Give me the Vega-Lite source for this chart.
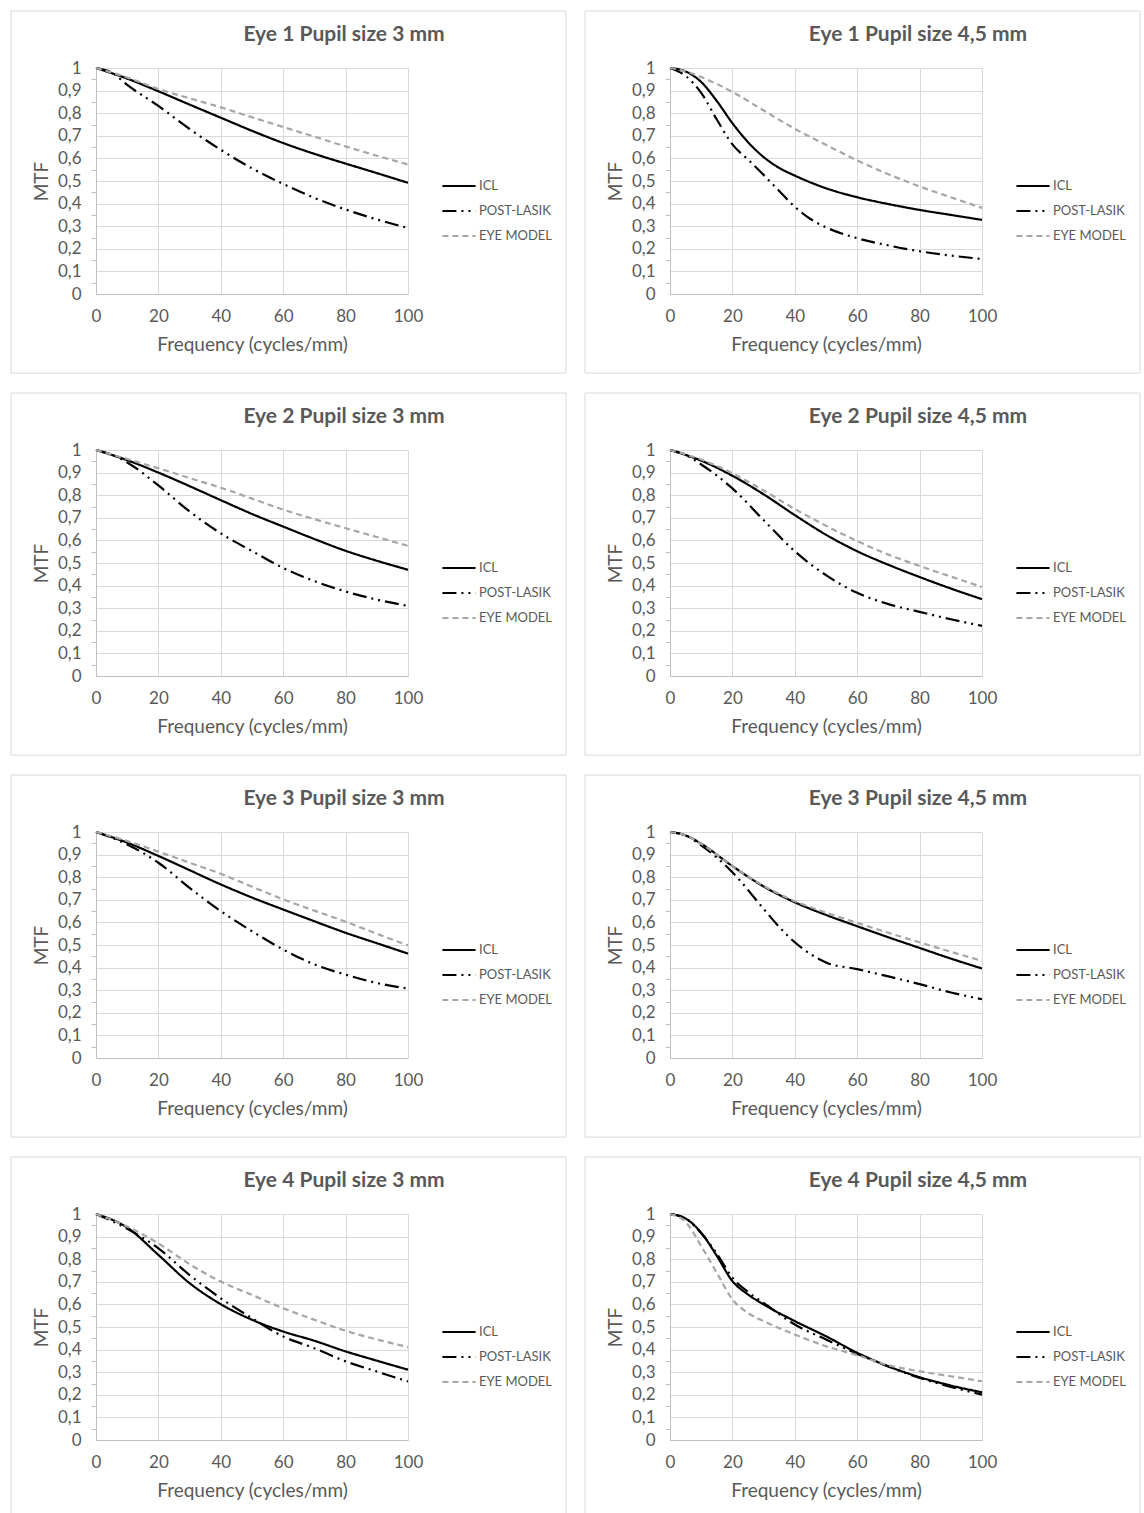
{
  "$schema": "https://vega.github.io/schema/vega-lite/v6.json",
  "padding": {"left": 10, "top": 10, "right": 0, "bottom": 0},
  "background": "white",
  "data": {"values": [
    {"p":"E1_3","s":"ICL","f":0,"m":1},{"p":"E1_3","s":"ICL","f":10,"m":0.953},{"p":"E1_3","s":"ICL","f":20,"m":0.897},{"p":"E1_3","s":"ICL","f":30,"m":0.838},{"p":"E1_3","s":"ICL","f":40,"m":0.78},{"p":"E1_3","s":"ICL","f":50,"m":0.722},{"p":"E1_3","s":"ICL","f":60,"m":0.668},{"p":"E1_3","s":"ICL","f":70,"m":0.62},{"p":"E1_3","s":"ICL","f":80,"m":0.577},{"p":"E1_3","s":"ICL","f":90,"m":0.535},{"p":"E1_3","s":"ICL","f":100,"m":0.492},
    {"p":"E1_3","s":"POST-LASIK","f":0,"m":1},{"p":"E1_3","s":"POST-LASIK","f":5,"m":0.98},{"p":"E1_3","s":"POST-LASIK","f":10,"m":0.925},{"p":"E1_3","s":"POST-LASIK","f":20,"m":0.832},{"p":"E1_3","s":"POST-LASIK","f":30,"m":0.73},{"p":"E1_3","s":"POST-LASIK","f":40,"m":0.638},{"p":"E1_3","s":"POST-LASIK","f":50,"m":0.556},{"p":"E1_3","s":"POST-LASIK","f":60,"m":0.487},{"p":"E1_3","s":"POST-LASIK","f":70,"m":0.425},{"p":"E1_3","s":"POST-LASIK","f":80,"m":0.374},{"p":"E1_3","s":"POST-LASIK","f":90,"m":0.33},{"p":"E1_3","s":"POST-LASIK","f":100,"m":0.292},
    {"p":"E1_3","s":"EYE MODEL","f":0,"m":1},{"p":"E1_3","s":"EYE MODEL","f":10,"m":0.958},{"p":"E1_3","s":"EYE MODEL","f":20,"m":0.907},{"p":"E1_3","s":"EYE MODEL","f":30,"m":0.866},{"p":"E1_3","s":"EYE MODEL","f":40,"m":0.826},{"p":"E1_3","s":"EYE MODEL","f":50,"m":0.782},{"p":"E1_3","s":"EYE MODEL","f":60,"m":0.739},{"p":"E1_3","s":"EYE MODEL","f":70,"m":0.696},{"p":"E1_3","s":"EYE MODEL","f":80,"m":0.653},{"p":"E1_3","s":"EYE MODEL","f":90,"m":0.612},{"p":"E1_3","s":"EYE MODEL","f":100,"m":0.573},

    {"p":"E1_45","s":"ICL","f":0,"m":1},{"p":"E1_45","s":"ICL","f":5,"m":0.985},{"p":"E1_45","s":"ICL","f":10,"m":0.938},{"p":"E1_45","s":"ICL","f":15,"m":0.854},{"p":"E1_45","s":"ICL","f":20,"m":0.756},{"p":"E1_45","s":"ICL","f":25,"m":0.672},{"p":"E1_45","s":"ICL","f":30,"m":0.606},{"p":"E1_45","s":"ICL","f":35,"m":0.558},{"p":"E1_45","s":"ICL","f":40,"m":0.524},{"p":"E1_45","s":"ICL","f":50,"m":0.468},{"p":"E1_45","s":"ICL","f":60,"m":0.428},{"p":"E1_45","s":"ICL","f":70,"m":0.398},{"p":"E1_45","s":"ICL","f":80,"m":0.372},{"p":"E1_45","s":"ICL","f":90,"m":0.35},{"p":"E1_45","s":"ICL","f":100,"m":0.328},
    {"p":"E1_45","s":"POST-LASIK","f":0,"m":1},{"p":"E1_45","s":"POST-LASIK","f":5,"m":0.965},{"p":"E1_45","s":"POST-LASIK","f":10,"m":0.89},{"p":"E1_45","s":"POST-LASIK","f":15,"m":0.772},{"p":"E1_45","s":"POST-LASIK","f":20,"m":0.662},{"p":"E1_45","s":"POST-LASIK","f":25,"m":0.595},{"p":"E1_45","s":"POST-LASIK","f":30,"m":0.527},{"p":"E1_45","s":"POST-LASIK","f":35,"m":0.456},{"p":"E1_45","s":"POST-LASIK","f":40,"m":0.386},{"p":"E1_45","s":"POST-LASIK","f":45,"m":0.332},{"p":"E1_45","s":"POST-LASIK","f":50,"m":0.295},{"p":"E1_45","s":"POST-LASIK","f":60,"m":0.247},{"p":"E1_45","s":"POST-LASIK","f":70,"m":0.215},{"p":"E1_45","s":"POST-LASIK","f":80,"m":0.189},{"p":"E1_45","s":"POST-LASIK","f":90,"m":0.17},{"p":"E1_45","s":"POST-LASIK","f":100,"m":0.155},
    {"p":"E1_45","s":"EYE MODEL","f":0,"m":1},{"p":"E1_45","s":"EYE MODEL","f":5,"m":0.985},{"p":"E1_45","s":"EYE MODEL","f":10,"m":0.96},{"p":"E1_45","s":"EYE MODEL","f":20,"m":0.894},{"p":"E1_45","s":"EYE MODEL","f":30,"m":0.812},{"p":"E1_45","s":"EYE MODEL","f":40,"m":0.731},{"p":"E1_45","s":"EYE MODEL","f":50,"m":0.66},{"p":"E1_45","s":"EYE MODEL","f":60,"m":0.591},{"p":"E1_45","s":"EYE MODEL","f":70,"m":0.53},{"p":"E1_45","s":"EYE MODEL","f":80,"m":0.476},{"p":"E1_45","s":"EYE MODEL","f":90,"m":0.428},{"p":"E1_45","s":"EYE MODEL","f":100,"m":0.381},

    {"p":"E2_3","s":"ICL","f":0,"m":1},{"p":"E2_3","s":"ICL","f":10,"m":0.955},{"p":"E2_3","s":"ICL","f":20,"m":0.9},{"p":"E2_3","s":"ICL","f":30,"m":0.84},{"p":"E2_3","s":"ICL","f":40,"m":0.778},{"p":"E2_3","s":"ICL","f":50,"m":0.717},{"p":"E2_3","s":"ICL","f":60,"m":0.661},{"p":"E2_3","s":"ICL","f":70,"m":0.606},{"p":"E2_3","s":"ICL","f":80,"m":0.554},{"p":"E2_3","s":"ICL","f":90,"m":0.51},{"p":"E2_3","s":"ICL","f":100,"m":0.47},
    {"p":"E2_3","s":"POST-LASIK","f":0,"m":1},{"p":"E2_3","s":"POST-LASIK","f":5,"m":0.98},{"p":"E2_3","s":"POST-LASIK","f":10,"m":0.945},{"p":"E2_3","s":"POST-LASIK","f":20,"m":0.843},{"p":"E2_3","s":"POST-LASIK","f":30,"m":0.728},{"p":"E2_3","s":"POST-LASIK","f":40,"m":0.631},{"p":"E2_3","s":"POST-LASIK","f":50,"m":0.553},{"p":"E2_3","s":"POST-LASIK","f":60,"m":0.478},{"p":"E2_3","s":"POST-LASIK","f":70,"m":0.42},{"p":"E2_3","s":"POST-LASIK","f":80,"m":0.374},{"p":"E2_3","s":"POST-LASIK","f":90,"m":0.338},{"p":"E2_3","s":"POST-LASIK","f":100,"m":0.31},
    {"p":"E2_3","s":"EYE MODEL","f":0,"m":1},{"p":"E2_3","s":"EYE MODEL","f":10,"m":0.96},{"p":"E2_3","s":"EYE MODEL","f":20,"m":0.919},{"p":"E2_3","s":"EYE MODEL","f":30,"m":0.876},{"p":"E2_3","s":"EYE MODEL","f":40,"m":0.833},{"p":"E2_3","s":"EYE MODEL","f":50,"m":0.785},{"p":"E2_3","s":"EYE MODEL","f":60,"m":0.736},{"p":"E2_3","s":"EYE MODEL","f":70,"m":0.694},{"p":"E2_3","s":"EYE MODEL","f":80,"m":0.654},{"p":"E2_3","s":"EYE MODEL","f":90,"m":0.615},{"p":"E2_3","s":"EYE MODEL","f":100,"m":0.576},

    {"p":"E2_45","s":"ICL","f":0,"m":1},{"p":"E2_45","s":"ICL","f":10,"m":0.953},{"p":"E2_45","s":"ICL","f":20,"m":0.886},{"p":"E2_45","s":"ICL","f":30,"m":0.804},{"p":"E2_45","s":"ICL","f":40,"m":0.712},{"p":"E2_45","s":"ICL","f":50,"m":0.625},{"p":"E2_45","s":"ICL","f":60,"m":0.552},{"p":"E2_45","s":"ICL","f":70,"m":0.492},{"p":"E2_45","s":"ICL","f":80,"m":0.438},{"p":"E2_45","s":"ICL","f":90,"m":0.387},{"p":"E2_45","s":"ICL","f":100,"m":0.34},
    {"p":"E2_45","s":"POST-LASIK","f":0,"m":1},{"p":"E2_45","s":"POST-LASIK","f":5,"m":0.978},{"p":"E2_45","s":"POST-LASIK","f":10,"m":0.936},{"p":"E2_45","s":"POST-LASIK","f":20,"m":0.83},{"p":"E2_45","s":"POST-LASIK","f":30,"m":0.69},{"p":"E2_45","s":"POST-LASIK","f":40,"m":0.552},{"p":"E2_45","s":"POST-LASIK","f":50,"m":0.446},{"p":"E2_45","s":"POST-LASIK","f":60,"m":0.368},{"p":"E2_45","s":"POST-LASIK","f":70,"m":0.318},{"p":"E2_45","s":"POST-LASIK","f":80,"m":0.284},{"p":"E2_45","s":"POST-LASIK","f":90,"m":0.251},{"p":"E2_45","s":"POST-LASIK","f":100,"m":0.222},
    {"p":"E2_45","s":"EYE MODEL","f":0,"m":1},{"p":"E2_45","s":"EYE MODEL","f":10,"m":0.958},{"p":"E2_45","s":"EYE MODEL","f":20,"m":0.897},{"p":"E2_45","s":"EYE MODEL","f":30,"m":0.821},{"p":"E2_45","s":"EYE MODEL","f":40,"m":0.739},{"p":"E2_45","s":"EYE MODEL","f":50,"m":0.665},{"p":"E2_45","s":"EYE MODEL","f":60,"m":0.597},{"p":"E2_45","s":"EYE MODEL","f":70,"m":0.537},{"p":"E2_45","s":"EYE MODEL","f":80,"m":0.487},{"p":"E2_45","s":"EYE MODEL","f":90,"m":0.44},{"p":"E2_45","s":"EYE MODEL","f":100,"m":0.394},

    {"p":"E3_3","s":"ICL","f":0,"m":1},{"p":"E3_3","s":"ICL","f":10,"m":0.953},{"p":"E3_3","s":"ICL","f":20,"m":0.894},{"p":"E3_3","s":"ICL","f":30,"m":0.831},{"p":"E3_3","s":"ICL","f":40,"m":0.768},{"p":"E3_3","s":"ICL","f":50,"m":0.71},{"p":"E3_3","s":"ICL","f":60,"m":0.657},{"p":"E3_3","s":"ICL","f":70,"m":0.605},{"p":"E3_3","s":"ICL","f":80,"m":0.554},{"p":"E3_3","s":"ICL","f":90,"m":0.508},{"p":"E3_3","s":"ICL","f":100,"m":0.462},
    {"p":"E3_3","s":"POST-LASIK","f":0,"m":1},{"p":"E3_3","s":"POST-LASIK","f":10,"m":0.945},{"p":"E3_3","s":"POST-LASIK","f":20,"m":0.864},{"p":"E3_3","s":"POST-LASIK","f":30,"m":0.753},{"p":"E3_3","s":"POST-LASIK","f":40,"m":0.65},{"p":"E3_3","s":"POST-LASIK","f":50,"m":0.561},{"p":"E3_3","s":"POST-LASIK","f":60,"m":0.48},{"p":"E3_3","s":"POST-LASIK","f":70,"m":0.414},{"p":"E3_3","s":"POST-LASIK","f":80,"m":0.369},{"p":"E3_3","s":"POST-LASIK","f":90,"m":0.332},{"p":"E3_3","s":"POST-LASIK","f":100,"m":0.307},
    {"p":"E3_3","s":"EYE MODEL","f":0,"m":1},{"p":"E3_3","s":"EYE MODEL","f":10,"m":0.96},{"p":"E3_3","s":"EYE MODEL","f":20,"m":0.913},{"p":"E3_3","s":"EYE MODEL","f":30,"m":0.864},{"p":"E3_3","s":"EYE MODEL","f":40,"m":0.815},{"p":"E3_3","s":"EYE MODEL","f":50,"m":0.758},{"p":"E3_3","s":"EYE MODEL","f":60,"m":0.702},{"p":"E3_3","s":"EYE MODEL","f":70,"m":0.652},{"p":"E3_3","s":"EYE MODEL","f":80,"m":0.603},{"p":"E3_3","s":"EYE MODEL","f":90,"m":0.55},{"p":"E3_3","s":"EYE MODEL","f":100,"m":0.498},

    {"p":"E3_45","s":"ICL","f":0,"m":1},{"p":"E3_45","s":"ICL","f":5,"m":0.985},{"p":"E3_45","s":"ICL","f":10,"m":0.948},{"p":"E3_45","s":"ICL","f":20,"m":0.849},{"p":"E3_45","s":"ICL","f":30,"m":0.759},{"p":"E3_45","s":"ICL","f":40,"m":0.689},{"p":"E3_45","s":"ICL","f":50,"m":0.633},{"p":"E3_45","s":"ICL","f":60,"m":0.583},{"p":"E3_45","s":"ICL","f":70,"m":0.534},{"p":"E3_45","s":"ICL","f":80,"m":0.487},{"p":"E3_45","s":"ICL","f":90,"m":0.44},{"p":"E3_45","s":"ICL","f":100,"m":0.396},
    {"p":"E3_45","s":"POST-LASIK","f":0,"m":1},{"p":"E3_45","s":"POST-LASIK","f":5,"m":0.985},{"p":"E3_45","s":"POST-LASIK","f":10,"m":0.941},{"p":"E3_45","s":"POST-LASIK","f":20,"m":0.822},{"p":"E3_45","s":"POST-LASIK","f":30,"m":0.66},{"p":"E3_45","s":"POST-LASIK","f":35,"m":0.58},{"p":"E3_45","s":"POST-LASIK","f":40,"m":0.512},{"p":"E3_45","s":"POST-LASIK","f":45,"m":0.46},{"p":"E3_45","s":"POST-LASIK","f":50,"m":0.423},{"p":"E3_45","s":"POST-LASIK","f":60,"m":0.393},{"p":"E3_45","s":"POST-LASIK","f":70,"m":0.361},{"p":"E3_45","s":"POST-LASIK","f":80,"m":0.327},{"p":"E3_45","s":"POST-LASIK","f":90,"m":0.29},{"p":"E3_45","s":"POST-LASIK","f":100,"m":0.26},
    {"p":"E3_45","s":"EYE MODEL","f":0,"m":1},{"p":"E3_45","s":"EYE MODEL","f":5,"m":0.985},{"p":"E3_45","s":"EYE MODEL","f":10,"m":0.948},{"p":"E3_45","s":"EYE MODEL","f":20,"m":0.849},{"p":"E3_45","s":"EYE MODEL","f":30,"m":0.762},{"p":"E3_45","s":"EYE MODEL","f":40,"m":0.694},{"p":"E3_45","s":"EYE MODEL","f":50,"m":0.643},{"p":"E3_45","s":"EYE MODEL","f":60,"m":0.598},{"p":"E3_45","s":"EYE MODEL","f":70,"m":0.554},{"p":"E3_45","s":"EYE MODEL","f":80,"m":0.512},{"p":"E3_45","s":"EYE MODEL","f":90,"m":0.47},{"p":"E3_45","s":"EYE MODEL","f":100,"m":0.43},

    {"p":"E4_3","s":"ICL","f":0,"m":1},{"p":"E4_3","s":"ICL","f":10,"m":0.94},{"p":"E4_3","s":"ICL","f":20,"m":0.819},{"p":"E4_3","s":"ICL","f":30,"m":0.694},{"p":"E4_3","s":"ICL","f":40,"m":0.601},{"p":"E4_3","s":"ICL","f":50,"m":0.532},{"p":"E4_3","s":"ICL","f":60,"m":0.48},{"p":"E4_3","s":"ICL","f":70,"m":0.439},{"p":"E4_3","s":"ICL","f":80,"m":0.392},{"p":"E4_3","s":"ICL","f":90,"m":0.351},{"p":"E4_3","s":"ICL","f":100,"m":0.311},
    {"p":"E4_3","s":"POST-LASIK","f":0,"m":1},{"p":"E4_3","s":"POST-LASIK","f":10,"m":0.935},{"p":"E4_3","s":"POST-LASIK","f":20,"m":0.848},{"p":"E4_3","s":"POST-LASIK","f":30,"m":0.73},{"p":"E4_3","s":"POST-LASIK","f":40,"m":0.627},{"p":"E4_3","s":"POST-LASIK","f":50,"m":0.539},{"p":"E4_3","s":"POST-LASIK","f":60,"m":0.458},{"p":"E4_3","s":"POST-LASIK","f":70,"m":0.406},{"p":"E4_3","s":"POST-LASIK","f":80,"m":0.348},{"p":"E4_3","s":"POST-LASIK","f":90,"m":0.303},{"p":"E4_3","s":"POST-LASIK","f":100,"m":0.259},
    {"p":"E4_3","s":"EYE MODEL","f":0,"m":1},{"p":"E4_3","s":"EYE MODEL","f":10,"m":0.945},{"p":"E4_3","s":"EYE MODEL","f":20,"m":0.87},{"p":"E4_3","s":"EYE MODEL","f":30,"m":0.778},{"p":"E4_3","s":"EYE MODEL","f":40,"m":0.701},{"p":"E4_3","s":"EYE MODEL","f":50,"m":0.642},{"p":"E4_3","s":"EYE MODEL","f":60,"m":0.583},{"p":"E4_3","s":"EYE MODEL","f":70,"m":0.532},{"p":"E4_3","s":"EYE MODEL","f":80,"m":0.483},{"p":"E4_3","s":"EYE MODEL","f":90,"m":0.445},{"p":"E4_3","s":"EYE MODEL","f":100,"m":0.411},

    {"p":"E4_45","s":"ICL","f":0,"m":1},{"p":"E4_45","s":"ICL","f":5,"m":0.98},{"p":"E4_45","s":"ICL","f":10,"m":0.917},{"p":"E4_45","s":"ICL","f":15,"m":0.815},{"p":"E4_45","s":"ICL","f":20,"m":0.703},{"p":"E4_45","s":"ICL","f":25,"m":0.644},{"p":"E4_45","s":"ICL","f":30,"m":0.6},{"p":"E4_45","s":"ICL","f":40,"m":0.526},{"p":"E4_45","s":"ICL","f":50,"m":0.459},{"p":"E4_45","s":"ICL","f":60,"m":0.386},{"p":"E4_45","s":"ICL","f":70,"m":0.326},{"p":"E4_45","s":"ICL","f":80,"m":0.278},{"p":"E4_45","s":"ICL","f":90,"m":0.241},{"p":"E4_45","s":"ICL","f":100,"m":0.211},
    {"p":"E4_45","s":"POST-LASIK","f":0,"m":1},{"p":"E4_45","s":"POST-LASIK","f":5,"m":0.98},{"p":"E4_45","s":"POST-LASIK","f":10,"m":0.915},{"p":"E4_45","s":"POST-LASIK","f":15,"m":0.825},{"p":"E4_45","s":"POST-LASIK","f":20,"m":0.718},{"p":"E4_45","s":"POST-LASIK","f":25,"m":0.655},{"p":"E4_45","s":"POST-LASIK","f":30,"m":0.607},{"p":"E4_45","s":"POST-LASIK","f":40,"m":0.511},{"p":"E4_45","s":"POST-LASIK","f":50,"m":0.445},{"p":"E4_45","s":"POST-LASIK","f":60,"m":0.381},{"p":"E4_45","s":"POST-LASIK","f":70,"m":0.325},{"p":"E4_45","s":"POST-LASIK","f":80,"m":0.275},{"p":"E4_45","s":"POST-LASIK","f":90,"m":0.235},{"p":"E4_45","s":"POST-LASIK","f":100,"m":0.201},
    {"p":"E4_45","s":"EYE MODEL","f":0,"m":1},{"p":"E4_45","s":"EYE MODEL","f":5,"m":0.965},{"p":"E4_45","s":"EYE MODEL","f":10,"m":0.858},{"p":"E4_45","s":"EYE MODEL","f":15,"m":0.74},{"p":"E4_45","s":"EYE MODEL","f":20,"m":0.622},{"p":"E4_45","s":"EYE MODEL","f":25,"m":0.562},{"p":"E4_45","s":"EYE MODEL","f":30,"m":0.526},{"p":"E4_45","s":"EYE MODEL","f":40,"m":0.467},{"p":"E4_45","s":"EYE MODEL","f":50,"m":0.415},{"p":"E4_45","s":"EYE MODEL","f":60,"m":0.375},{"p":"E4_45","s":"EYE MODEL","f":70,"m":0.331},{"p":"E4_45","s":"EYE MODEL","f":80,"m":0.304},{"p":"E4_45","s":"EYE MODEL","f":90,"m":0.282},{"p":"E4_45","s":"EYE MODEL","f":100,"m":0.26}
  ]},
  "columns": 2,
  "spacing": {"row": 18, "column": 17},
  "resolve": {"scale": {"color": "independent", "strokeDash": "independent"}, "legend": {"color": "independent", "strokeDash": "independent"}},
  "concat": [
    {"title": {"text": "Eye 1 Pupil size 3 mm"}, "width": 312, "height": 226, "layer": [
      {"data": {"values": [{}]}, "mark": {"type": "rect", "fill": "transparent", "stroke": "#d9d9d9", "strokeWidth": 1}, "encoding": {
        "x": {"datum": -27.24, "title": "Frequency (cycles/mm)", "scale": {"domain": [0, 100], "nice": false}, "axis": {"values": [0, 20, 40, 60, 80, 100], "grid": true, "tickSize": 0, "labelPadding": 14, "titlePadding": 11}},
        "x2": {"datum": 150.64},
        "y": {"datum": -0.35, "title": "MTF", "scale": {"domain": [0, 1], "nice": false}, "axis": {"values": [0, 0.05, 0.1, 0.15, 0.2, 0.25, 0.3, 0.35, 0.4, 0.45, 0.5, 0.55, 0.6, 0.65, 0.7, 0.75, 0.8, 0.85, 0.9, 0.95, 1], "grid": true, "labelExpr": "round(datum.value*20) % 2 === 0 ? replace(format(datum.value, '.1~f'), '.', ',') : ''", "gridOpacity": {"condition": {"test": "round(datum.value*20) % 2 === 0", "value": 1}, "value": 0}, "tickOpacity": {"condition": {"test": "round(datum.value*20) % 2 === 0", "value": 0}, "value": 1}, "tickSize": 5, "labelPadding": 10, "titlePadding": 6}},
        "y2": {"datum": 1.252}}},
      {"transform": [{"filter": "datum.p == 'E1_3'"}], "mark": {"type": "line", "strokeWidth": 2.2, "interpolate": "monotone"},
       "encoding": {
         "x": {"field": "f", "type": "quantitative", "title": "Frequency (cycles/mm)", "scale": {"domain": [0, 100], "nice": false}, "axis": {"values": [0, 20, 40, 60, 80, 100], "grid": true, "tickSize": 0, "labelPadding": 14, "titlePadding": 11}},
         "y": {"field": "m", "type": "quantitative", "title": "MTF", "scale": {"domain": [0, 1], "nice": false}, "axis": {"values": [0, 0.05, 0.1, 0.15, 0.2, 0.25, 0.3, 0.35, 0.4, 0.45, 0.5, 0.55, 0.6, 0.65, 0.7, 0.75, 0.8, 0.85, 0.9, 0.95, 1], "grid": true, "labelExpr": "round(datum.value*20) % 2 === 0 ? replace(format(datum.value, '.1~f'), '.', ',') : ''", "gridOpacity": {"condition": {"test": "round(datum.value*20) % 2 === 0", "value": 1}, "value": 0}, "tickOpacity": {"condition": {"test": "round(datum.value*20) % 2 === 0", "value": 0}, "value": 1}, "tickSize": 5, "labelPadding": 10, "titlePadding": 6}},
         "color": {"field": "s", "type": "nominal", "title": null, "scale": {"domain": ["ICL", "POST-LASIK", "EYE MODEL"], "range": ["#000000", "#000000", "#a6a6a6"]}},
         "strokeDash": {"field": "s", "type": "nominal", "title": null, "scale": {"domain": ["ICL", "POST-LASIK", "EYE MODEL"], "range": [[1, 0], [14, 5, 2, 5, 2, 5], [6, 4]]}}
       }}
    ]},
    {"title": {"text": "Eye 1 Pupil size 4,5 mm"}, "width": 312, "height": 226, "layer": [
      {"data": {"values": [{}]}, "mark": {"type": "rect", "fill": "transparent", "stroke": "#d9d9d9", "strokeWidth": 1}, "encoding": {
        "x": {"datum": -27.24, "title": "Frequency (cycles/mm)", "scale": {"domain": [0, 100], "nice": false}, "axis": {"values": [0, 20, 40, 60, 80, 100], "grid": true, "tickSize": 0, "labelPadding": 14, "titlePadding": 11}},
        "x2": {"datum": 150.64},
        "y": {"datum": -0.35, "title": "MTF", "scale": {"domain": [0, 1], "nice": false}, "axis": {"values": [0, 0.05, 0.1, 0.15, 0.2, 0.25, 0.3, 0.35, 0.4, 0.45, 0.5, 0.55, 0.6, 0.65, 0.7, 0.75, 0.8, 0.85, 0.9, 0.95, 1], "grid": true, "labelExpr": "round(datum.value*20) % 2 === 0 ? replace(format(datum.value, '.1~f'), '.', ',') : ''", "gridOpacity": {"condition": {"test": "round(datum.value*20) % 2 === 0", "value": 1}, "value": 0}, "tickOpacity": {"condition": {"test": "round(datum.value*20) % 2 === 0", "value": 0}, "value": 1}, "tickSize": 5, "labelPadding": 10, "titlePadding": 6}},
        "y2": {"datum": 1.252}}},
      {"transform": [{"filter": "datum.p == 'E1_45'"}], "mark": {"type": "line", "strokeWidth": 2.2, "interpolate": "monotone"},
       "encoding": {
         "x": {"field": "f", "type": "quantitative", "title": "Frequency (cycles/mm)", "scale": {"domain": [0, 100], "nice": false}, "axis": {"values": [0, 20, 40, 60, 80, 100], "grid": true, "tickSize": 0, "labelPadding": 14, "titlePadding": 11}},
         "y": {"field": "m", "type": "quantitative", "title": "MTF", "scale": {"domain": [0, 1], "nice": false}, "axis": {"values": [0, 0.05, 0.1, 0.15, 0.2, 0.25, 0.3, 0.35, 0.4, 0.45, 0.5, 0.55, 0.6, 0.65, 0.7, 0.75, 0.8, 0.85, 0.9, 0.95, 1], "grid": true, "labelExpr": "round(datum.value*20) % 2 === 0 ? replace(format(datum.value, '.1~f'), '.', ',') : ''", "gridOpacity": {"condition": {"test": "round(datum.value*20) % 2 === 0", "value": 1}, "value": 0}, "tickOpacity": {"condition": {"test": "round(datum.value*20) % 2 === 0", "value": 0}, "value": 1}, "tickSize": 5, "labelPadding": 10, "titlePadding": 6}},
         "color": {"field": "s", "type": "nominal", "title": null, "scale": {"domain": ["ICL", "POST-LASIK", "EYE MODEL"], "range": ["#000000", "#000000", "#a6a6a6"]}},
         "strokeDash": {"field": "s", "type": "nominal", "title": null, "scale": {"domain": ["ICL", "POST-LASIK", "EYE MODEL"], "range": [[1, 0], [14, 5, 2, 5, 2, 5], [6, 4]]}}
       }}
    ]},
    {"title": {"text": "Eye 2 Pupil size 3 mm"}, "width": 312, "height": 226, "layer": [
      {"data": {"values": [{}]}, "mark": {"type": "rect", "fill": "transparent", "stroke": "#d9d9d9", "strokeWidth": 1}, "encoding": {
        "x": {"datum": -27.24, "title": "Frequency (cycles/mm)", "scale": {"domain": [0, 100], "nice": false}, "axis": {"values": [0, 20, 40, 60, 80, 100], "grid": true, "tickSize": 0, "labelPadding": 14, "titlePadding": 11}},
        "x2": {"datum": 150.64},
        "y": {"datum": -0.35, "title": "MTF", "scale": {"domain": [0, 1], "nice": false}, "axis": {"values": [0, 0.05, 0.1, 0.15, 0.2, 0.25, 0.3, 0.35, 0.4, 0.45, 0.5, 0.55, 0.6, 0.65, 0.7, 0.75, 0.8, 0.85, 0.9, 0.95, 1], "grid": true, "labelExpr": "round(datum.value*20) % 2 === 0 ? replace(format(datum.value, '.1~f'), '.', ',') : ''", "gridOpacity": {"condition": {"test": "round(datum.value*20) % 2 === 0", "value": 1}, "value": 0}, "tickOpacity": {"condition": {"test": "round(datum.value*20) % 2 === 0", "value": 0}, "value": 1}, "tickSize": 5, "labelPadding": 10, "titlePadding": 6}},
        "y2": {"datum": 1.252}}},
      {"transform": [{"filter": "datum.p == 'E2_3'"}], "mark": {"type": "line", "strokeWidth": 2.2, "interpolate": "monotone"},
       "encoding": {
         "x": {"field": "f", "type": "quantitative", "title": "Frequency (cycles/mm)", "scale": {"domain": [0, 100], "nice": false}, "axis": {"values": [0, 20, 40, 60, 80, 100], "grid": true, "tickSize": 0, "labelPadding": 14, "titlePadding": 11}},
         "y": {"field": "m", "type": "quantitative", "title": "MTF", "scale": {"domain": [0, 1], "nice": false}, "axis": {"values": [0, 0.05, 0.1, 0.15, 0.2, 0.25, 0.3, 0.35, 0.4, 0.45, 0.5, 0.55, 0.6, 0.65, 0.7, 0.75, 0.8, 0.85, 0.9, 0.95, 1], "grid": true, "labelExpr": "round(datum.value*20) % 2 === 0 ? replace(format(datum.value, '.1~f'), '.', ',') : ''", "gridOpacity": {"condition": {"test": "round(datum.value*20) % 2 === 0", "value": 1}, "value": 0}, "tickOpacity": {"condition": {"test": "round(datum.value*20) % 2 === 0", "value": 0}, "value": 1}, "tickSize": 5, "labelPadding": 10, "titlePadding": 6}},
         "color": {"field": "s", "type": "nominal", "title": null, "scale": {"domain": ["ICL", "POST-LASIK", "EYE MODEL"], "range": ["#000000", "#000000", "#a6a6a6"]}},
         "strokeDash": {"field": "s", "type": "nominal", "title": null, "scale": {"domain": ["ICL", "POST-LASIK", "EYE MODEL"], "range": [[1, 0], [14, 5, 2, 5, 2, 5], [6, 4]]}}
       }}
    ]},
    {"title": {"text": "Eye 2 Pupil size 4,5 mm"}, "width": 312, "height": 226, "layer": [
      {"data": {"values": [{}]}, "mark": {"type": "rect", "fill": "transparent", "stroke": "#d9d9d9", "strokeWidth": 1}, "encoding": {
        "x": {"datum": -27.24, "title": "Frequency (cycles/mm)", "scale": {"domain": [0, 100], "nice": false}, "axis": {"values": [0, 20, 40, 60, 80, 100], "grid": true, "tickSize": 0, "labelPadding": 14, "titlePadding": 11}},
        "x2": {"datum": 150.64},
        "y": {"datum": -0.35, "title": "MTF", "scale": {"domain": [0, 1], "nice": false}, "axis": {"values": [0, 0.05, 0.1, 0.15, 0.2, 0.25, 0.3, 0.35, 0.4, 0.45, 0.5, 0.55, 0.6, 0.65, 0.7, 0.75, 0.8, 0.85, 0.9, 0.95, 1], "grid": true, "labelExpr": "round(datum.value*20) % 2 === 0 ? replace(format(datum.value, '.1~f'), '.', ',') : ''", "gridOpacity": {"condition": {"test": "round(datum.value*20) % 2 === 0", "value": 1}, "value": 0}, "tickOpacity": {"condition": {"test": "round(datum.value*20) % 2 === 0", "value": 0}, "value": 1}, "tickSize": 5, "labelPadding": 10, "titlePadding": 6}},
        "y2": {"datum": 1.252}}},
      {"transform": [{"filter": "datum.p == 'E2_45'"}], "mark": {"type": "line", "strokeWidth": 2.2, "interpolate": "monotone"},
       "encoding": {
         "x": {"field": "f", "type": "quantitative", "title": "Frequency (cycles/mm)", "scale": {"domain": [0, 100], "nice": false}, "axis": {"values": [0, 20, 40, 60, 80, 100], "grid": true, "tickSize": 0, "labelPadding": 14, "titlePadding": 11}},
         "y": {"field": "m", "type": "quantitative", "title": "MTF", "scale": {"domain": [0, 1], "nice": false}, "axis": {"values": [0, 0.05, 0.1, 0.15, 0.2, 0.25, 0.3, 0.35, 0.4, 0.45, 0.5, 0.55, 0.6, 0.65, 0.7, 0.75, 0.8, 0.85, 0.9, 0.95, 1], "grid": true, "labelExpr": "round(datum.value*20) % 2 === 0 ? replace(format(datum.value, '.1~f'), '.', ',') : ''", "gridOpacity": {"condition": {"test": "round(datum.value*20) % 2 === 0", "value": 1}, "value": 0}, "tickOpacity": {"condition": {"test": "round(datum.value*20) % 2 === 0", "value": 0}, "value": 1}, "tickSize": 5, "labelPadding": 10, "titlePadding": 6}},
         "color": {"field": "s", "type": "nominal", "title": null, "scale": {"domain": ["ICL", "POST-LASIK", "EYE MODEL"], "range": ["#000000", "#000000", "#a6a6a6"]}},
         "strokeDash": {"field": "s", "type": "nominal", "title": null, "scale": {"domain": ["ICL", "POST-LASIK", "EYE MODEL"], "range": [[1, 0], [14, 5, 2, 5, 2, 5], [6, 4]]}}
       }}
    ]},
    {"title": {"text": "Eye 3 Pupil size 3 mm"}, "width": 312, "height": 226, "layer": [
      {"data": {"values": [{}]}, "mark": {"type": "rect", "fill": "transparent", "stroke": "#d9d9d9", "strokeWidth": 1}, "encoding": {
        "x": {"datum": -27.24, "title": "Frequency (cycles/mm)", "scale": {"domain": [0, 100], "nice": false}, "axis": {"values": [0, 20, 40, 60, 80, 100], "grid": true, "tickSize": 0, "labelPadding": 14, "titlePadding": 11}},
        "x2": {"datum": 150.64},
        "y": {"datum": -0.35, "title": "MTF", "scale": {"domain": [0, 1], "nice": false}, "axis": {"values": [0, 0.05, 0.1, 0.15, 0.2, 0.25, 0.3, 0.35, 0.4, 0.45, 0.5, 0.55, 0.6, 0.65, 0.7, 0.75, 0.8, 0.85, 0.9, 0.95, 1], "grid": true, "labelExpr": "round(datum.value*20) % 2 === 0 ? replace(format(datum.value, '.1~f'), '.', ',') : ''", "gridOpacity": {"condition": {"test": "round(datum.value*20) % 2 === 0", "value": 1}, "value": 0}, "tickOpacity": {"condition": {"test": "round(datum.value*20) % 2 === 0", "value": 0}, "value": 1}, "tickSize": 5, "labelPadding": 10, "titlePadding": 6}},
        "y2": {"datum": 1.252}}},
      {"transform": [{"filter": "datum.p == 'E3_3'"}], "mark": {"type": "line", "strokeWidth": 2.2, "interpolate": "monotone"},
       "encoding": {
         "x": {"field": "f", "type": "quantitative", "title": "Frequency (cycles/mm)", "scale": {"domain": [0, 100], "nice": false}, "axis": {"values": [0, 20, 40, 60, 80, 100], "grid": true, "tickSize": 0, "labelPadding": 14, "titlePadding": 11}},
         "y": {"field": "m", "type": "quantitative", "title": "MTF", "scale": {"domain": [0, 1], "nice": false}, "axis": {"values": [0, 0.05, 0.1, 0.15, 0.2, 0.25, 0.3, 0.35, 0.4, 0.45, 0.5, 0.55, 0.6, 0.65, 0.7, 0.75, 0.8, 0.85, 0.9, 0.95, 1], "grid": true, "labelExpr": "round(datum.value*20) % 2 === 0 ? replace(format(datum.value, '.1~f'), '.', ',') : ''", "gridOpacity": {"condition": {"test": "round(datum.value*20) % 2 === 0", "value": 1}, "value": 0}, "tickOpacity": {"condition": {"test": "round(datum.value*20) % 2 === 0", "value": 0}, "value": 1}, "tickSize": 5, "labelPadding": 10, "titlePadding": 6}},
         "color": {"field": "s", "type": "nominal", "title": null, "scale": {"domain": ["ICL", "POST-LASIK", "EYE MODEL"], "range": ["#000000", "#000000", "#a6a6a6"]}},
         "strokeDash": {"field": "s", "type": "nominal", "title": null, "scale": {"domain": ["ICL", "POST-LASIK", "EYE MODEL"], "range": [[1, 0], [14, 5, 2, 5, 2, 5], [6, 4]]}}
       }}
    ]},
    {"title": {"text": "Eye 3 Pupil size 4,5 mm"}, "width": 312, "height": 226, "layer": [
      {"data": {"values": [{}]}, "mark": {"type": "rect", "fill": "transparent", "stroke": "#d9d9d9", "strokeWidth": 1}, "encoding": {
        "x": {"datum": -27.24, "title": "Frequency (cycles/mm)", "scale": {"domain": [0, 100], "nice": false}, "axis": {"values": [0, 20, 40, 60, 80, 100], "grid": true, "tickSize": 0, "labelPadding": 14, "titlePadding": 11}},
        "x2": {"datum": 150.64},
        "y": {"datum": -0.35, "title": "MTF", "scale": {"domain": [0, 1], "nice": false}, "axis": {"values": [0, 0.05, 0.1, 0.15, 0.2, 0.25, 0.3, 0.35, 0.4, 0.45, 0.5, 0.55, 0.6, 0.65, 0.7, 0.75, 0.8, 0.85, 0.9, 0.95, 1], "grid": true, "labelExpr": "round(datum.value*20) % 2 === 0 ? replace(format(datum.value, '.1~f'), '.', ',') : ''", "gridOpacity": {"condition": {"test": "round(datum.value*20) % 2 === 0", "value": 1}, "value": 0}, "tickOpacity": {"condition": {"test": "round(datum.value*20) % 2 === 0", "value": 0}, "value": 1}, "tickSize": 5, "labelPadding": 10, "titlePadding": 6}},
        "y2": {"datum": 1.252}}},
      {"transform": [{"filter": "datum.p == 'E3_45'"}], "mark": {"type": "line", "strokeWidth": 2.2, "interpolate": "monotone"},
       "encoding": {
         "x": {"field": "f", "type": "quantitative", "title": "Frequency (cycles/mm)", "scale": {"domain": [0, 100], "nice": false}, "axis": {"values": [0, 20, 40, 60, 80, 100], "grid": true, "tickSize": 0, "labelPadding": 14, "titlePadding": 11}},
         "y": {"field": "m", "type": "quantitative", "title": "MTF", "scale": {"domain": [0, 1], "nice": false}, "axis": {"values": [0, 0.05, 0.1, 0.15, 0.2, 0.25, 0.3, 0.35, 0.4, 0.45, 0.5, 0.55, 0.6, 0.65, 0.7, 0.75, 0.8, 0.85, 0.9, 0.95, 1], "grid": true, "labelExpr": "round(datum.value*20) % 2 === 0 ? replace(format(datum.value, '.1~f'), '.', ',') : ''", "gridOpacity": {"condition": {"test": "round(datum.value*20) % 2 === 0", "value": 1}, "value": 0}, "tickOpacity": {"condition": {"test": "round(datum.value*20) % 2 === 0", "value": 0}, "value": 1}, "tickSize": 5, "labelPadding": 10, "titlePadding": 6}},
         "color": {"field": "s", "type": "nominal", "title": null, "scale": {"domain": ["ICL", "POST-LASIK", "EYE MODEL"], "range": ["#000000", "#000000", "#a6a6a6"]}},
         "strokeDash": {"field": "s", "type": "nominal", "title": null, "scale": {"domain": ["ICL", "POST-LASIK", "EYE MODEL"], "range": [[1, 0], [14, 5, 2, 5, 2, 5], [6, 4]]}}
       }}
    ]},
    {"title": {"text": "Eye 4 Pupil size 3 mm"}, "width": 312, "height": 226, "layer": [
      {"data": {"values": [{}]}, "mark": {"type": "rect", "fill": "transparent", "stroke": "#d9d9d9", "strokeWidth": 1}, "encoding": {
        "x": {"datum": -27.24, "title": "Frequency (cycles/mm)", "scale": {"domain": [0, 100], "nice": false}, "axis": {"values": [0, 20, 40, 60, 80, 100], "grid": true, "tickSize": 0, "labelPadding": 14, "titlePadding": 11}},
        "x2": {"datum": 150.64},
        "y": {"datum": -0.35, "title": "MTF", "scale": {"domain": [0, 1], "nice": false}, "axis": {"values": [0, 0.05, 0.1, 0.15, 0.2, 0.25, 0.3, 0.35, 0.4, 0.45, 0.5, 0.55, 0.6, 0.65, 0.7, 0.75, 0.8, 0.85, 0.9, 0.95, 1], "grid": true, "labelExpr": "round(datum.value*20) % 2 === 0 ? replace(format(datum.value, '.1~f'), '.', ',') : ''", "gridOpacity": {"condition": {"test": "round(datum.value*20) % 2 === 0", "value": 1}, "value": 0}, "tickOpacity": {"condition": {"test": "round(datum.value*20) % 2 === 0", "value": 0}, "value": 1}, "tickSize": 5, "labelPadding": 10, "titlePadding": 6}},
        "y2": {"datum": 1.252}}},
      {"transform": [{"filter": "datum.p == 'E4_3'"}], "mark": {"type": "line", "strokeWidth": 2.2, "interpolate": "monotone"},
       "encoding": {
         "x": {"field": "f", "type": "quantitative", "title": "Frequency (cycles/mm)", "scale": {"domain": [0, 100], "nice": false}, "axis": {"values": [0, 20, 40, 60, 80, 100], "grid": true, "tickSize": 0, "labelPadding": 14, "titlePadding": 11}},
         "y": {"field": "m", "type": "quantitative", "title": "MTF", "scale": {"domain": [0, 1], "nice": false}, "axis": {"values": [0, 0.05, 0.1, 0.15, 0.2, 0.25, 0.3, 0.35, 0.4, 0.45, 0.5, 0.55, 0.6, 0.65, 0.7, 0.75, 0.8, 0.85, 0.9, 0.95, 1], "grid": true, "labelExpr": "round(datum.value*20) % 2 === 0 ? replace(format(datum.value, '.1~f'), '.', ',') : ''", "gridOpacity": {"condition": {"test": "round(datum.value*20) % 2 === 0", "value": 1}, "value": 0}, "tickOpacity": {"condition": {"test": "round(datum.value*20) % 2 === 0", "value": 0}, "value": 1}, "tickSize": 5, "labelPadding": 10, "titlePadding": 6}},
         "color": {"field": "s", "type": "nominal", "title": null, "scale": {"domain": ["ICL", "POST-LASIK", "EYE MODEL"], "range": ["#000000", "#000000", "#a6a6a6"]}},
         "strokeDash": {"field": "s", "type": "nominal", "title": null, "scale": {"domain": ["ICL", "POST-LASIK", "EYE MODEL"], "range": [[1, 0], [14, 5, 2, 5, 2, 5], [6, 4]]}}
       }}
    ]},
    {"title": {"text": "Eye 4 Pupil size 4,5 mm"}, "width": 312, "height": 226, "layer": [
      {"data": {"values": [{}]}, "mark": {"type": "rect", "fill": "transparent", "stroke": "#d9d9d9", "strokeWidth": 1}, "encoding": {
        "x": {"datum": -27.24, "title": "Frequency (cycles/mm)", "scale": {"domain": [0, 100], "nice": false}, "axis": {"values": [0, 20, 40, 60, 80, 100], "grid": true, "tickSize": 0, "labelPadding": 14, "titlePadding": 11}},
        "x2": {"datum": 150.64},
        "y": {"datum": -0.35, "title": "MTF", "scale": {"domain": [0, 1], "nice": false}, "axis": {"values": [0, 0.05, 0.1, 0.15, 0.2, 0.25, 0.3, 0.35, 0.4, 0.45, 0.5, 0.55, 0.6, 0.65, 0.7, 0.75, 0.8, 0.85, 0.9, 0.95, 1], "grid": true, "labelExpr": "round(datum.value*20) % 2 === 0 ? replace(format(datum.value, '.1~f'), '.', ',') : ''", "gridOpacity": {"condition": {"test": "round(datum.value*20) % 2 === 0", "value": 1}, "value": 0}, "tickOpacity": {"condition": {"test": "round(datum.value*20) % 2 === 0", "value": 0}, "value": 1}, "tickSize": 5, "labelPadding": 10, "titlePadding": 6}},
        "y2": {"datum": 1.252}}},
      {"transform": [{"filter": "datum.p == 'E4_45'"}], "mark": {"type": "line", "strokeWidth": 2.2, "interpolate": "monotone"},
       "encoding": {
         "x": {"field": "f", "type": "quantitative", "title": "Frequency (cycles/mm)", "scale": {"domain": [0, 100], "nice": false}, "axis": {"values": [0, 20, 40, 60, 80, 100], "grid": true, "tickSize": 0, "labelPadding": 14, "titlePadding": 11}},
         "y": {"field": "m", "type": "quantitative", "title": "MTF", "scale": {"domain": [0, 1], "nice": false}, "axis": {"values": [0, 0.05, 0.1, 0.15, 0.2, 0.25, 0.3, 0.35, 0.4, 0.45, 0.5, 0.55, 0.6, 0.65, 0.7, 0.75, 0.8, 0.85, 0.9, 0.95, 1], "grid": true, "labelExpr": "round(datum.value*20) % 2 === 0 ? replace(format(datum.value, '.1~f'), '.', ',') : ''", "gridOpacity": {"condition": {"test": "round(datum.value*20) % 2 === 0", "value": 1}, "value": 0}, "tickOpacity": {"condition": {"test": "round(datum.value*20) % 2 === 0", "value": 0}, "value": 1}, "tickSize": 5, "labelPadding": 10, "titlePadding": 6}},
         "color": {"field": "s", "type": "nominal", "title": null, "scale": {"domain": ["ICL", "POST-LASIK", "EYE MODEL"], "range": ["#000000", "#000000", "#a6a6a6"]}},
         "strokeDash": {"field": "s", "type": "nominal", "title": null, "scale": {"domain": ["ICL", "POST-LASIK", "EYE MODEL"], "range": [[1, 0], [14, 5, 2, 5, 2, 5], [6, 4]]}}
       }}
    ]}
  ],
  "config": {
    "font": "Lato",
    "view": {"stroke": null},
    "title": {"fontSize": 21, "fontWeight": "bold", "color": "#595959", "anchor": "middle", "frame": "group", "offset": -34, "dx": 92},
    "axis": {"labelColor": "#595959", "titleColor": "#595959", "labelFontSize": 17, "titleFontSize": 19, "titleFontWeight": "normal", "gridColor": "#d9d9d9", "domainColor": "#bfbfbf", "tickColor": "#bfbfbf", "labelFlush": false, "labelOverlap": false},
    "legend": {"orient": "none", "legendX": 345, "legendY": 100, "labelFontSize": 13, "labelColor": "#595959", "symbolType": "stroke", "symbolSize": 1100, "symbolStrokeWidth": 2, "labelOffset": 2, "rowPadding": -7, "padding": 0}
  }
}
